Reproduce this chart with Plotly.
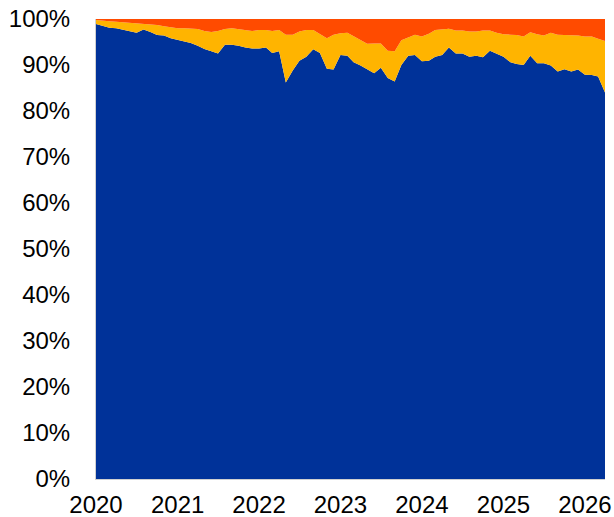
import pandas as pd
import plotly.graph_objects as go

# Monthly observations, January 2020 onwards
months = pd.date_range("2020-01-01", periods=76, freq="MS")

# Shares of the total, in percent
share_main = [
    98.9, 98.4, 98.1, 98.0, 97.7, 97.3, 97.0, 97.7, 97.2, 96.5, 96.4, 95.8,
    95.4, 95.0, 94.8, 94.2, 93.5, 93.0, 92.5, 94.4, 94.4, 94.2, 93.8, 93.6,
    93.6, 93.8, 92.6, 93.0, 86.2, 88.8, 90.9, 91.8, 93.4, 92.6, 89.2, 89.0,
    92.2, 92.0, 90.6, 89.9, 89.1, 88.2, 89.4, 87.2, 86.4, 90.0, 92.0, 92.2,
    90.8, 90.9, 91.8, 92.2, 93.8, 92.5, 92.5, 91.8, 92.0, 91.7, 93.1, 92.5,
    91.8, 90.6, 90.2, 90.0, 92.0, 90.4, 90.4, 89.9, 88.6, 89.1, 88.6, 89.0,
    87.9, 87.8, 87.5, 84.0,
]
share_second = [
    0.9, 1.2, 1.4, 1.4, 1.6, 1.8, 2.1, 1.3, 1.7, 2.2, 2.0, 2.4,
    2.6, 3.0, 3.1, 3.6, 3.9, 4.2, 4.9, 3.4, 3.6, 3.6, 3.8, 3.8,
    4.0, 3.8, 4.8, 4.6, 10.4, 7.8, 6.4, 5.8, 4.2, 4.2, 6.6, 7.6,
    4.7, 5.0, 5.6, 5.5, 5.5, 6.5, 5.3, 5.9, 6.6, 5.4, 4.0, 4.4,
    5.4, 5.9, 5.8, 5.5, 4.1, 5.0, 5.0, 5.5, 5.3, 5.8, 4.4, 4.5,
    4.9, 6.0, 6.3, 6.2, 5.1, 6.3, 6.0, 7.1, 8.0, 7.4, 7.9, 7.4,
    8.3, 8.4, 8.2, 11.2,
]
share_other = [
    0.2, 0.4, 0.5, 0.6, 0.7, 0.9, 0.9, 1.0, 1.1, 1.3, 1.6, 1.8,
    2.0, 2.0, 2.1, 2.2, 2.6, 2.8, 2.6, 2.2, 2.0, 2.2, 2.4, 2.6,
    2.4, 2.4, 2.6, 2.4, 3.4, 3.4, 2.7, 2.4, 2.4, 3.2, 4.2, 3.4,
    3.1, 3.0, 3.8, 4.6, 5.4, 5.3, 5.3, 6.9, 7.0, 4.6, 4.0, 3.4,
    3.8, 3.2, 2.4, 2.3, 2.1, 2.5, 2.5, 2.7, 2.7, 2.5, 2.5, 3.0,
    3.3, 3.4, 3.5, 3.8, 2.9, 3.3, 3.6, 3.0, 3.4, 3.5, 3.5, 3.6,
    3.8, 3.8, 4.3, 4.8,
]

year_ticks = pd.date_range("2020-01-01", "2026-01-01", freq="YS")
pct_ticks = list(range(0, 101, 10))
pct_labels = [f"{v}%" for v in pct_ticks]

fig = go.Figure()
for name, vals, colour in [
    ("Main", share_main, "#003299"),
    ("Second", share_second, "#FFB400"),
    ("Other", share_other, "#FF4B00"),
]:
    fig.add_trace(go.Scatter(
        x=months, y=vals, name=name, mode="lines",
        stackgroup="one", line=dict(width=0, color=colour),
        fillcolor=colour, hoverinfo="x+y+name",
    ))

fig.update_layout(
    width=614, height=517,
    margin=dict(l=96, r=9, t=19, b=38),
    paper_bgcolor="white", plot_bgcolor="white",
    showlegend=False,
    font=dict(family="Liberation Sans, Arial, sans-serif", size=24, color="#000000"),
)
fig.update_xaxes(
    range=[months[0], months[-1]],
    tickvals=year_ticks, tickformat="%Y",
    showgrid=False, showline=True, linecolor="#d0d0d0", linewidth=1,
    ticks="outside", ticklen=4, tickcolor="white", automargin=False,
)
fig.update_yaxes(
    range=[0, 100], tickvals=pct_ticks, ticktext=pct_labels,
    showgrid=False, showline=True, linecolor="#d0d0d0", linewidth=1,
    ticks="outside", ticklen=20, tickcolor="white", zeroline=False,
    automargin=False,
)

fig.write_html("out.html")
